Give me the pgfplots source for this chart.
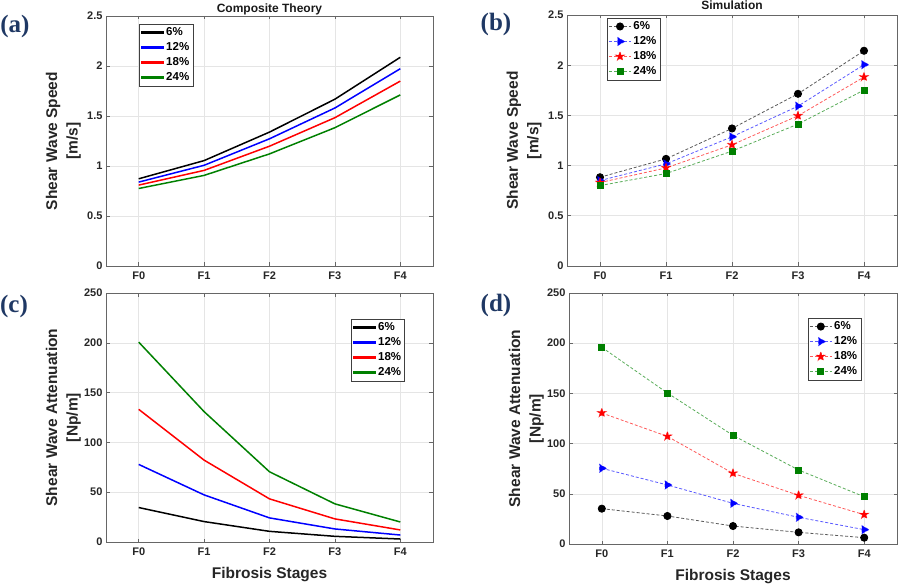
\documentclass[border=0pt]{standalone}
\usepackage{pgfplots}
\pgfplotsset{compat=1.18}
\usepackage{fontspec}
\setmainfont{Liberation Sans}
\newfontfamily\seriffont{Liberation Serif}
\definecolor{mgreen}{rgb}{0,0.5,0}
\definecolor{navy}{HTML}{1F3864}
\pgfdeclareplotmark{fstar}{%
  \pgfpathmoveto{\pgfpointpolar{90}{\pgfplotmarksize}}%
  \pgfpathlineto{\pgfpointpolar{126}{0.42\pgfplotmarksize}}%
  \pgfpathlineto{\pgfpointpolar{162}{\pgfplotmarksize}}%
  \pgfpathlineto{\pgfpointpolar{198}{0.42\pgfplotmarksize}}%
  \pgfpathlineto{\pgfpointpolar{234}{\pgfplotmarksize}}%
  \pgfpathlineto{\pgfpointpolar{270}{0.42\pgfplotmarksize}}%
  \pgfpathlineto{\pgfpointpolar{306}{\pgfplotmarksize}}%
  \pgfpathlineto{\pgfpointpolar{342}{0.42\pgfplotmarksize}}%
  \pgfpathlineto{\pgfpointpolar{18}{\pgfplotmarksize}}%
  \pgfpathlineto{\pgfpointpolar{54}{0.42\pgfplotmarksize}}%
  \pgfpathclose
  \pgfusepathqfillstroke
}
\pgfplotsset{
  panel/.style={
    scale only axis, anchor=south west,
    xmin=-0.5, xmax=4.5, xtick={0,1,2,3,4}, xticklabels={F0,F1,F2,F3,F4},
    grid=major, major grid style={black!10, line width=0.6pt},
    axis line style={black!60, line width=0.6pt},
    tick style={black!60, line width=0.6pt},
    tick align=inside, tick pos=both, major tick length=3.5pt,
    /pgf/number format/assume math mode=true,
    ticklabel style={font=\fontsize{11}{13}\selectfont\bfseries, text=black!85},
    xticklabel style={yshift=-2pt},
    ylabel style={font=\fontsize{15.5}{20.5}\selectfont\bfseries, align=center, text=black!85, at={(axis description cs:-0.066,0.5)}, anchor=south},
    xlabel style={font=\fontsize{15.5}{18}\selectfont\bfseries, text=black!85, yshift=-5pt},
    legend style={font=\fontsize{11.5}{13}\selectfont\bfseries, draw=black!75, fill=white, inner sep=1.5pt, row sep=1.5pt},
    legend cell align=left,
  },
  lineleg/.style={legend image code/.code={\fill[##1] (0pt,-1pt) rectangle (22pt,1pt);}},
  markleg/.style={legend image code/.code={\draw[mark repeat=2,mark phase=2,##1] plot coordinates {(0pt,0pt) (11pt,0pt) (22pt,0pt)};}},
  dl/.style={line width=0.8pt, dash pattern=on 3pt off 2pt, draw opacity=0.65, mark options={solid, opacity=1}},
  ln/.style={line width=1.5pt},
}
\begin{document}
\begin{tikzpicture}
\path[use as bounding box] (0,0) rectangle (900pt,584pt);
% (a)
\begin{axis}[panel, lineleg, at={(106pt,318pt)}, width=327pt, height=250pt,
  ymin=0, ymax=2.5, ytick={0,0.5,1,1.5,2,2.5},
  ylabel={Shear Wave Speed\\{[m/s]}},
  legend style={at={(axis description cs:0.101,0.968)}, anchor=north west}]
\addplot[black, ln] coordinates {(0,0.872)(1,1.054)(2,1.339)(3,1.668)(4,2.087)};
\addplot[blue, ln] coordinates {(0,0.839)(1,1.007)(2,1.272)(3,1.580)(4,1.973)};
\addplot[red, ln] coordinates {(0,0.809)(1,0.956)(2,1.198)(3,1.483)(4,1.849)};
\addplot[mgreen, ln] coordinates {(0,0.775)(1,0.906)(2,1.121)(3,1.383)(4,1.711)};
\legend{6\%,12\%,18\%,24\%}
\end{axis}
% (b)
\begin{axis}[panel, markleg, at={(567pt,318pt)}, width=330pt, height=251pt,
  ymin=0, ymax=2.5, ytick={0,0.5,1,1.5,2,2.5},
  ylabel={Shear Wave Speed\\{[m/s]}},
  legend style={at={(axis description cs:0.121,0.988)}, anchor=north west}]
\addplot[black, dl, mark=*, mark size=3.6pt] coordinates {(0,0.884)(1,1.067)(2,1.370)(3,1.715)(4,2.144)};
\addplot[blue, dl, mark=triangle*, mark size=4.6pt, mark options={rotate=-90}] coordinates {(0,0.851)(1,1.017)(2,1.287)(3,1.592)(4,2.005)};
\addplot[red, dl, mark=fstar, mark size=4.6pt, mark options={fill=red}] coordinates {(0,0.831)(1,0.977)(2,1.207)(3,1.496)(4,1.882)};
\addplot[mgreen, dl, mark=square*, mark size=3pt] coordinates {(0,0.801)(1,0.921)(2,1.144)(3,1.413)(4,1.752)};
\legend{6\%,12\%,18\%,24\%}
\end{axis}
% (c)
\begin{axis}[panel, lineleg, at={(106pt,42pt)}, width=327pt, height=249pt,
  ymin=0, ymax=250, ytick={0,50,100,150,200,250},
  xlabel={Fibrosis Stages}, ylabel={Shear Wave Attenuation\\{[Np/m]}},
  legend style={at={(axis description cs:0.914,0.896)}, anchor=north east}]
\addplot[black, ln] coordinates {(0,34.6)(1,20.5)(2,10.7)(3,5.7)(4,3.0)};
\addplot[blue, ln] coordinates {(0,77.9)(1,47.3)(2,24.2)(3,13.1)(4,7.0)};
\addplot[red, ln] coordinates {(0,133.2)(1,82.2)(2,43.3)(3,23.2)(4,12.1)};
\addplot[mgreen, ln] coordinates {(0,200.7)(1,130.9)(2,70.5)(3,38.3)(4,20.1)};
\legend{6\%,12\%,18\%,24\%}
\end{axis}
% (d)
\begin{axis}[panel, markleg, at={(569pt,40pt)}, width=328pt, height=251pt,
  ymin=0, ymax=250, ytick={0,50,100,150,200,250},
  xlabel={Fibrosis Stages}, ylabel={Shear Wave Attenuation\\{[Np/m]}},
  legend style={at={(axis description cs:0.89,0.90)}, anchor=north east}]
\addplot[black, dl, mark=*, mark size=3.6pt] coordinates {(0,35.2)(1,27.9)(2,17.9)(3,11.6)(4,6.3)};
\addplot[blue, dl, mark=triangle*, mark size=4.6pt, mark options={rotate=-90}] coordinates {(0,75.4)(1,58.8)(2,40.5)(3,26.6)(4,14.3)};
\addplot[red, dl, mark=fstar, mark size=4.6pt, mark options={fill=red}] coordinates {(0,130.5)(1,107.2)(2,70.4)(3,48.5)(4,29.2)};
\addplot[mgreen, dl, mark=square*, mark size=3pt] coordinates {(0,195.9)(1,150.4)(2,108.2)(3,73.7)(4,47.1)};
\legend{6\%,12\%,18\%,24\%}
\end{axis}
% titles
\node[font=\fontsize{12}{14}\selectfont\bfseries, text=black!90, anchor=base] at (269.5pt,571pt) {Composite Theory};
\node[font=\fontsize{12}{14}\selectfont\bfseries, text=black!90, anchor=base] at (732pt,574pt) {Simulation};
% panel labels
\node[font=\seriffont\bfseries\fontsize{25}{28}\selectfont, text=navy] at (15pt,558pt) {(a)};
\node[font=\seriffont\bfseries\fontsize{25}{28}\selectfont, text=navy] at (496pt,560pt) {(b)};
\node[font=\seriffont\bfseries\fontsize{25}{28}\selectfont, text=navy] at (14pt,278pt) {(c)};
\node[font=\seriffont\bfseries\fontsize{25}{28}\selectfont, text=navy] at (496pt,279pt) {(d)};
\end{tikzpicture}
\end{document}
